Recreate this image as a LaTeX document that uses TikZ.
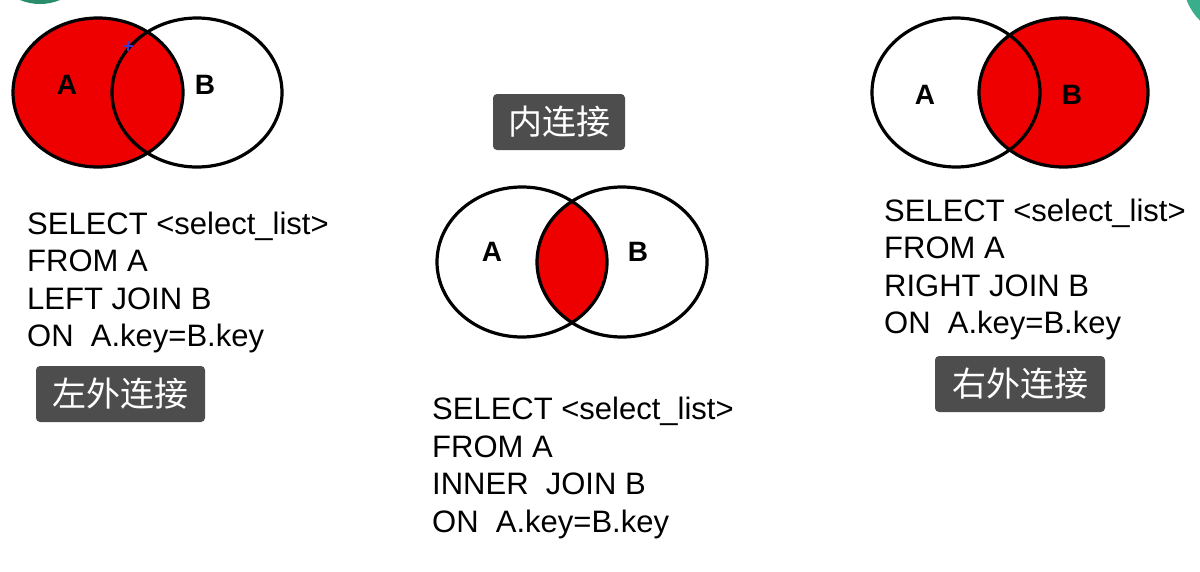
\documentclass[tikz,border=0pt]{standalone}
\usepackage{fontspec}
\setmainfont{Liberation Sans}
\newfontfamily\cjk{Noto Sans CJK SC}
\definecolor{vred}{HTML}{EE0000}
\definecolor{boxgray}{HTML}{4D4D4D}
\definecolor{tealA}{HTML}{2A8C6A}
\definecolor{tealB}{HTML}{3AAE8C}
\definecolor{curblue}{HTML}{3A3AD0}
\tikzset{
  vline/.style={draw=black, line width=3.2pt},
  sqltext/.style={anchor=base west, align=left, inner sep=0pt, font=\fontsize{31}{37.5}\selectfont},
  setlabel/.style={font=\fontsize{28}{30}\selectfont\bfseries, inner sep=0pt},
  tagbox/.style={fill=boxgray, rounded corners=4pt, text=white, inner sep=0pt, minimum height=56pt, font=\cjk\fontsize{34}{36}\selectfont}
}
\begin{document}
\begin{tikzpicture}[x=1pt,y=-1pt]
\useasboundingbox (0,0) rectangle (1200,571);
\begin{scope}
\clip (0,0) rectangle (1200,571);
\fill[white] (0,0) rectangle (1200,571);
% decorative teal shapes at the corners
\fill[tealA] (40,-48) circle (52);
\fill[tealB] (1240,-20) circle (57);

% ---- left outer join ----
\fill[vred] (98,92.5) ellipse (85 and 74.5);
\draw[vline] (98,92.5) ellipse (85 and 74.5);
\draw[vline] (197,92.5) ellipse (85 and 74.5);
\node[setlabel] (lA) at (67,85) {A};
\node[setlabel] (lB) at (205,85) {B};
\draw[curblue, line width=1.5pt] (123,46) -- (133,46) (128,41) -- (128,51);
\node[sqltext] (lsql) at (27,346.5) {SELECT <select\_list>\\FROM A\\LEFT JOIN B\\ON\ \ A.key=B.key};
\node[tagbox, minimum width=169pt] (ltag) at (120.5,394) {左外连接};

% ---- inner join ----
\node[tagbox, minimum width=132pt] (mtag) at (559,122) {内连接};
\begin{scope}
\clip (522,262) ellipse (85 and 75);
\fill[vred] (622,262) ellipse (85 and 75);
\end{scope}
\draw[vline] (522,262) ellipse (85 and 75);
\draw[vline] (622,262) ellipse (85 and 75);
\node[setlabel] (mA) at (492,252) {A};
\node[setlabel] (mB) at (638,252) {B};
\node[sqltext] (msql) at (432,532) {SELECT <select\_list>\\FROM A\\INNER\ \ JOIN B\\ON\ \ A.key=B.key};

% ---- right outer join ----
\fill[vred] (1063.5,92.5) ellipse (84.5 and 74.5);
\draw[vline] (956,92.5) ellipse (84 and 74.5);
\draw[vline] (1063.5,92.5) ellipse (84.5 and 74.5);
\node[setlabel] (rA) at (925,95) {A};
\node[setlabel] (rB) at (1072,95) {B};
\node[sqltext] (rsql) at (884,333.5) {SELECT <select\_list>\\FROM A\\RIGHT JOIN B\\ON\ \ A.key=B.key};
\node[tagbox, minimum width=170pt] (rtag) at (1020,384) {右外连接};
\end{scope}
\end{tikzpicture}
\end{document}
